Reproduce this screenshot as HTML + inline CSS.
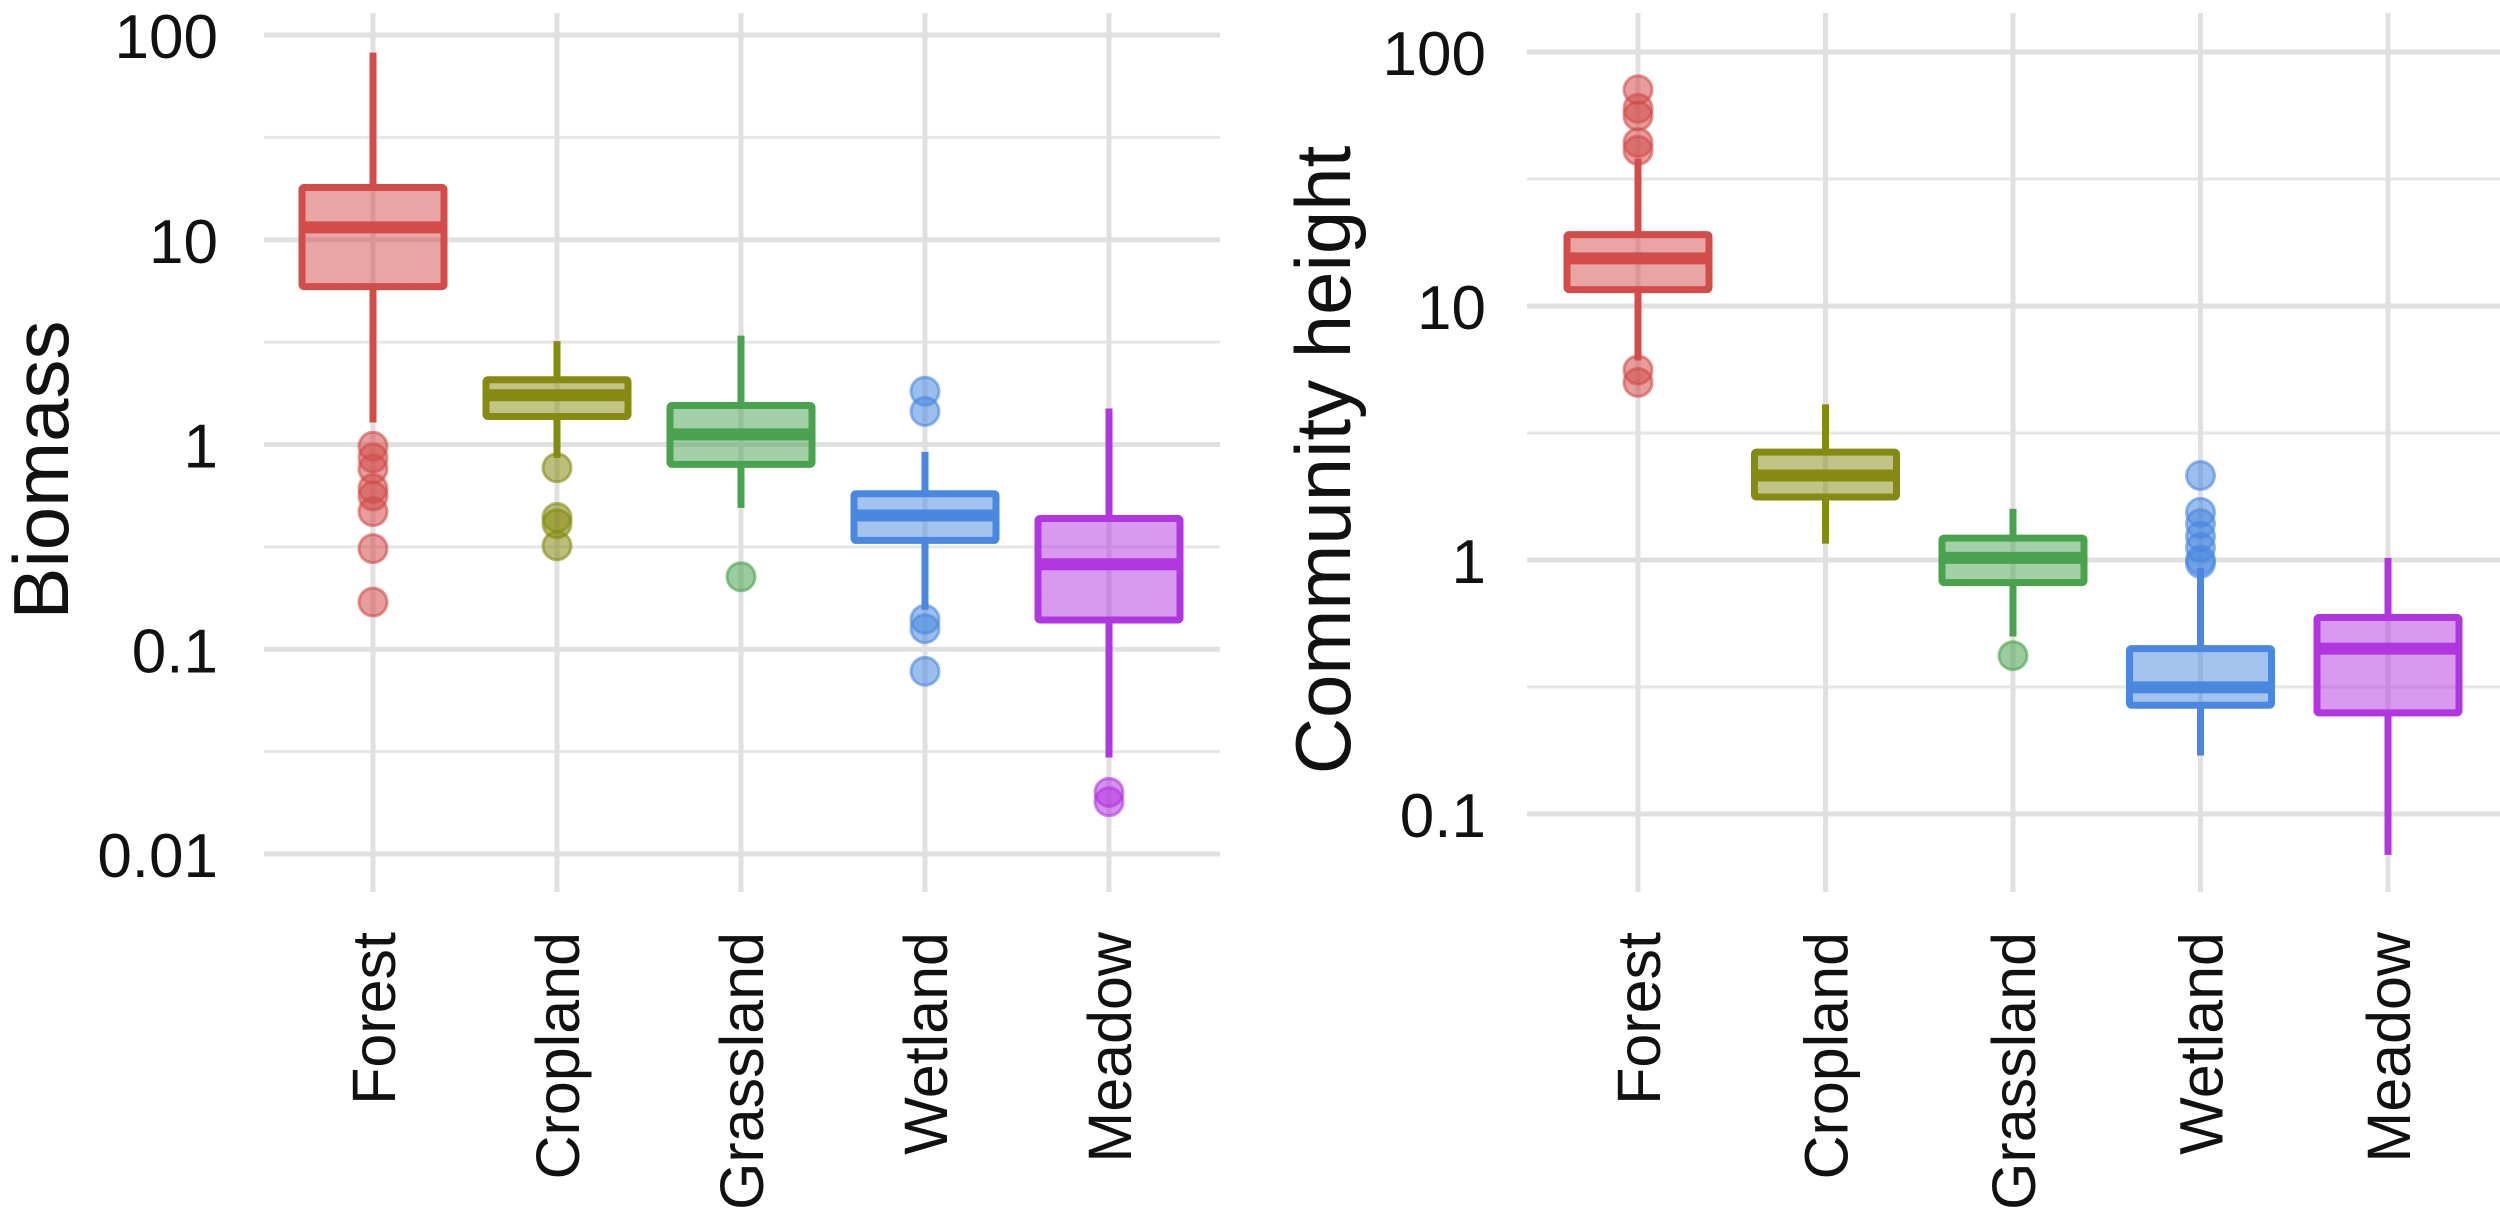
<!DOCTYPE html>
<html><head><meta charset="utf-8"><style>
html,body{margin:0;padding:0;background:#fff;}
svg{display:block;font-family:"Liberation Sans",Arial,sans-serif;}
</style></head><body>
<svg id="chart" width="2500" height="1217" viewBox="0 0 2500 1217" xmlns="http://www.w3.org/2000/svg"></svg>
<script>
const categories = ["Forest","Cropland","Grassland","Wetland","Meadow"];
const colors = ["#d24c4a","#858a10","#48a24e","#4a88e0","#b236e0"];
const yTicks1 = [100,10,1,0.1,0.01];
const yTickLabels1 = ["100","10","1","0.1","0.01"];
const yTicks2 = [100,10,1,0.1];
const yTickLabels2 = ["100","10","1","0.1"];
// biomass: [lowerWhisker, q1, median, q3, upperWhisker]
const biomassStats = [
  [1.28,5.9,11.5,18,82],
  [0.86,1.37,1.74,2.07,3.2],
  [0.49,0.80,1.12,1.55,3.4],
  [0.156,0.34,0.45,0.575,0.92],
  [0.0296,0.139,0.26,0.435,1.5]
];
const biomassOutliers = [
  [0.98,0.86,0.76,0.61,0.56,0.47,0.31,0.17],
  [0.77,0.44,0.41,0.32],
  [0.226],
  [1.82,1.45,0.14,0.126,0.078],
  [0.02,0.018]
];
const heightStats = [
  [6.1,11.6,15.4,19.1,38],
  [1.16,1.77,2.15,2.66,4.1],
  [0.50,0.815,1.02,1.22,1.59],
  [0.17,0.268,0.315,0.448,0.93],
  [0.069,0.25,0.448,0.594,1.02]
];
const heightOutliers = [
  [71,60,56,44,41,5.6,5.0],
  [],
  [0.42],
  [2.15,1.54,1.39,1.24,1.12,1.0,0.97],
  []
];

const NS="http://www.w3.org/2000/svg";
const svg=document.getElementById('chart');
function mk(tag,attrs,parent){const e=document.createElementNS(NS,tag);for(const k in attrs)e.setAttribute(k,attrs[k]);(parent||svg).appendChild(e);return e;}

function panel(cfg){
  const g=mk('g',{});
  
  
  const y=v=>cfg.yTop+(2-Math.log10(v))*cfg.decade;
  const x=i=>cfg.x0+i*cfg.step;
  for(let i=0;i<cfg.ticks.length-1;i++){
    const yy=(y(cfg.ticks[i])+y(cfg.ticks[i+1]))/2;
    const l=mk('line',{x1:cfg.gx0,x2:cfg.gx1,y1:yy,y2:yy,stroke:'#e6e6e6','stroke-width':3},g);
    
    
  }
  cfg.ticks.forEach((t,i)=>{
    const l=mk('line',{x1:cfg.gx0,x2:cfg.gx1,y1:y(t),y2:y(t),stroke:'#e0e0e0','stroke-width':5},g);
    
    
    const tx=mk('text',{x:cfg.tickX,y:y(t)+23,'text-anchor':'end','font-size':62,fill:'#111'},g);
    tx.textContent=cfg.tickLabels[i];
    
    
  });
  categories.forEach((c,i)=>{
    const l=mk('line',{x1:x(i),x2:x(i),y1:13,y2:892,stroke:'#e0e0e0','stroke-width':5},g);
    
    
    const tx=mk('text',{transform:`translate(${x(i)+22},932) rotate(-90)`,'text-anchor':'end','font-size':61,fill:'#111'},g);
    tx.textContent=c;
    
    
  });
  const title=mk('text',{transform:`translate(${cfg.titleX},${cfg.titleY}) rotate(-90)`,'text-anchor':'middle','font-size':78,fill:'#111'},g);
  title.textContent=cfg.title;
  
  
  cfg.stats.forEach((s,i)=>{
    const col=colors[i], cx=x(i), hw=71;
    const bg=mk('g',{},g);
    
    
    mk('line',{x1:cx,x2:cx,y1:y(s[4]),y2:y(s[3]),stroke:col,'stroke-width':7},bg);
    mk('line',{x1:cx,x2:cx,y1:y(s[1]),y2:y(s[0]),stroke:col,'stroke-width':7},bg);
    mk('rect',{x:cx-hw,y:y(s[3]),width:2*hw,height:y(s[1])-y(s[3]),fill:col,'fill-opacity':0.5,stroke:col,'stroke-width':7,rx:2},bg);
    mk('line',{x1:cx-hw,x2:cx+hw,y1:y(s[2]),y2:y(s[2]),stroke:col,'stroke-width':12},bg);
    cfg.outliers[i].forEach(o=>{
      const p=mk('circle',{cx:cx,cy:y(o),r:14,fill:col,'fill-opacity':0.55,stroke:col,'stroke-opacity':0.6,'stroke-width':3},bg);
      
      
    });
  });
}
panel({name:'biomass-panel',yTop:35,decade:204.75,x0:373,step:184,gx0:264,gx1:1220,ticks:yTicks1,tickLabels:yTickLabels1,tickX:218,title:'Biomass',titleX:68,titleY:470,stats:biomassStats,outliers:biomassOutliers});
panel({name:'height-panel',yTop:52,decade:254,x0:1638,step:187.5,gx0:1527,gx1:2500,ticks:yTicks2,tickLabels:yTickLabels2,tickX:1486,title:'Community height',titleX:1350,titleY:460,stats:heightStats,outliers:heightOutliers});
</script>
</body></html>
